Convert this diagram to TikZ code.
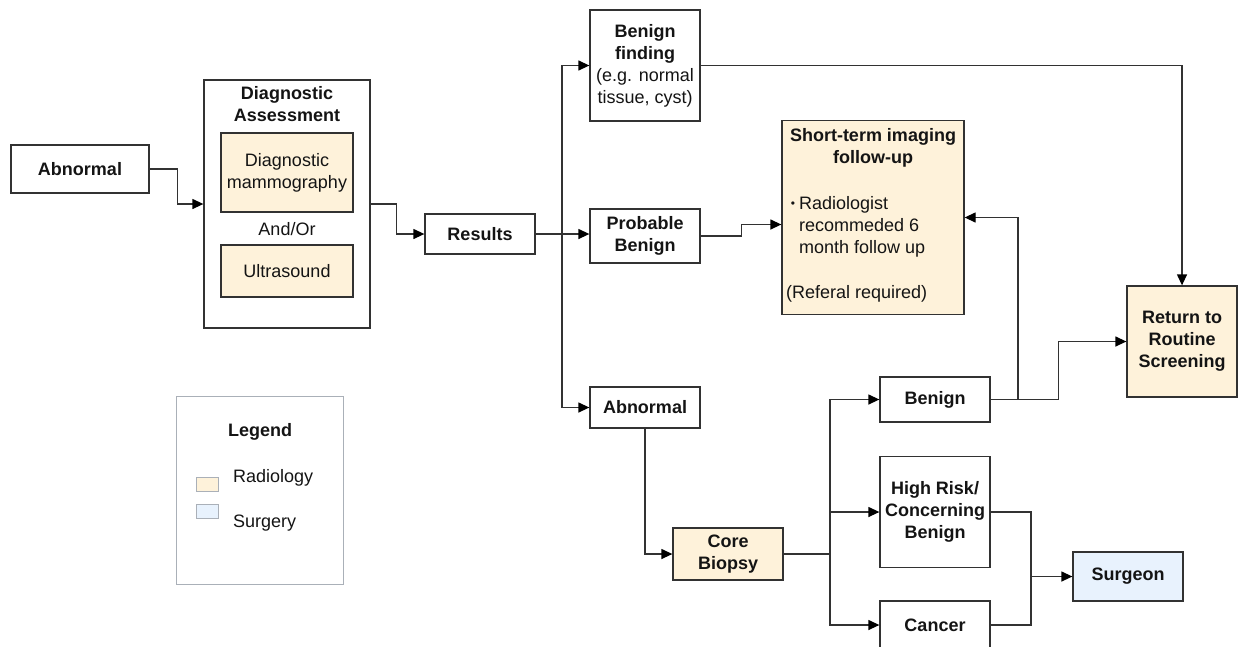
\documentclass[tikz,border=0pt]{standalone}
\usepackage{fontspec}
\setmainfont{Liberation Sans}
\usepackage{xcolor}
\usepackage{tikz}
\usetikzlibrary{arrows.meta,positioning,calc}
\definecolor{radfill}{RGB}{254,242,218}
\definecolor{surgfill}{RGB}{232,242,253}
\definecolor{edgegray}{RGB}{50,50,50}
\definecolor{legendgray}{RGB}{170,176,184}
\definecolor{inkgray}{RGB}{20,20,20}
\newcommand{\bigfont}{\fontsize{18}{22}\selectfont}
\tikzset{
  box/.style={rectangle, draw=edgegray, line width=1.3pt, minimum width=110pt, align=center, font=\bigfont\bfseries, text=inkgray, inner sep=2pt},
  radbox/.style={box, fill=radfill},
  surgbox/.style={box, fill=surgfill},
  plaintxt/.style={font=\bigfont, text=inkgray, align=center, inner sep=0pt},
  boldtxt/.style={plaintxt, font=\bigfont\bfseries},
  arrow/.style={-{Triangle[length=11pt,width=10pt,color=black]}, line width=1.3pt, draw=edgegray},
  line/.style={line width=1.3pt, draw=edgegray},
  swatch/.style={rectangle, draw=legendgray, line width=1pt, minimum width=22pt, minimum height=14pt, inner sep=0pt},
}

\begin{document}
\begin{tikzpicture}[x=1pt, y=-1pt]
  \useasboundingbox (0,0) rectangle (1238,646);

  % Entry and diagnostic assessment
  \node[box, minimum width=138pt, minimum height=48pt] (abn1) at (80,169) {Abnormal};
  \node[box, minimum width=166pt, minimum height=248pt] (diag) at (287,204) {};
  \node[boldtxt] (diagttl) at (287,104) {Diagnostic\\Assessment};
  \node[radbox, minimum width=132pt, minimum height=79pt, font=\bigfont] (mammo) at (287,172.5) {Diagnostic\\mammography};
  \node[plaintxt] (andor) at (287,229) {And/Or};
  \node[radbox, minimum width=132pt, minimum height=52pt, font=\bigfont] (ultra) at (287,271) {Ultrasound};

  % Results and first split
  \node[box, minimum height=40pt] (results) at (480,234) {Results};
  \node[box, minimum height=111pt] (bfind) at (645,65.5) {Benign\\finding\\\mdseries(e.g. normal\\\mdseries tissue, cyst)};
  \node[box, minimum height=54pt] (prob) at (645,236) {Probable\\Benign};
  \node[box, minimum height=41pt] (abn2) at (645,407.5) {Abnormal};

  \draw[arrow] (abn1.east) -- ++(28,0) |- (diag.west);
  \draw[arrow] (diag.east) -- ++(26,0) |- (results.west);

  \coordinate (split1) at (562,234);
  \draw[arrow] (results.east) -- (results.east -| prob.west);
  \draw[arrow] (split1) |- (bfind.west);
  \draw[arrow] (split1) |- (abn2.west);

  % Short-term follow-up
  \node[radbox, minimum width=182pt, minimum height=194pt] (short) at (873,217.5) {};
  \node[boldtxt] (shortttl) at (873,148) {Short-term imaging\\follow-up};
  \node[plaintxt] (bullet) at (793,205) {\fontsize{12}{14}\selectfont\textbullet};
  \node[plaintxt, align=left, anchor=west] (radtxt) at (799,227) {Radiologist\\recommeded 6\\month follow up};
  \node[plaintxt, anchor=west] (refer) at (786,294) {(Referal required)};

  \draw[arrow] (prob.east) -- ++(41,0) |- ($(short.west)+(0,7)$);

  % Return to screening
  \node[radbox, minimum height=111pt] (ret) at (1182,341.5) {Return to\\Routine\\Screening};
  \draw[arrow] (bfind.east) -| (ret.north);

  % Biopsy branch
  \node[radbox, minimum height=52pt] (core) at (728,554) {Core\\Biopsy};
  \node[box, minimum height=45pt] (ben2) at (935,399.5) {Benign};
  \node[box, minimum height=111pt] (hrisk) at (935,512) {High Risk/\\Concerning\\Benign};
  \node[box, minimum height=48pt] (cancer) at (935,625) {Cancer};
  \node[surgbox, minimum height=49pt] (surg) at (1128,576.5) {Surgeon};

  \draw[arrow] (abn2.south) |- (core.west);
  \coordinate (split2) at (830,554);
  \draw[arrow] (core.east) -- (split2) |- (ben2.west);
  \draw[arrow] (split2) |- (hrisk.west);
  \draw[arrow] (split2) |- (cancer.west);

  \coordinate (split3) at (1018,399.5);
  \draw[arrow] (ben2.east) -- ++(68,0) |- (ret.west);
  \draw[arrow] (split3) |- (short.east);

  \coordinate (sjoin) at (1031,576.5);
  \draw[line] (hrisk.east) -| (sjoin) |- (cancer.east);
  \draw[arrow] (sjoin) -- (surg.west);

  % Legend
  \node[rectangle, draw=legendgray, line width=1pt, minimum width=167pt, minimum height=188pt] (legend) at (259.5,490) {};
  \node[boldtxt] (legttl) at (260,432) {Legend};
  \node[swatch, fill=radfill] (sw1) at (207,484) {};
  \node[swatch, fill=surgfill] (sw2) at (207,511) {};
  \node[plaintxt, anchor=west] (legrad) at (233,478) {Radiology};
  \node[plaintxt, anchor=west] (legsurg) at (233,523) {Surgery};
\end{tikzpicture}
\end{document}
